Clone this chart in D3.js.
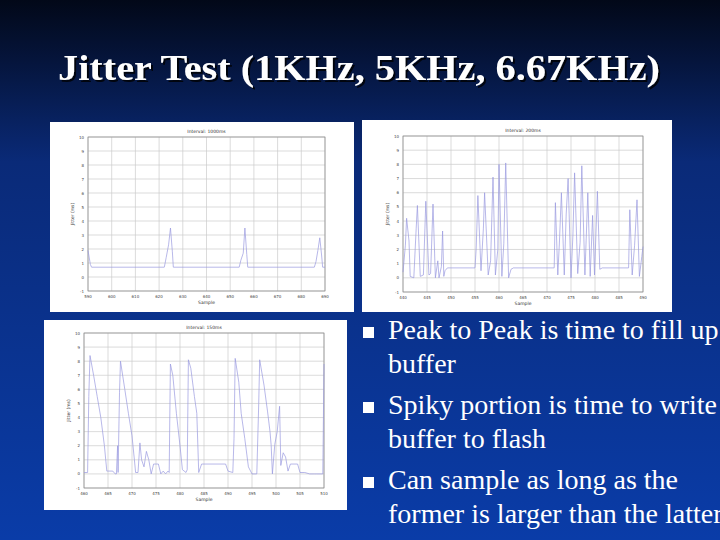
<!DOCTYPE html>
<html><head><meta charset="utf-8">
<script src="https://cdn.jsdelivr.net/npm/d3@7"></script>
<style>body{margin:0;overflow:hidden}</style>
</head><body>
<svg id="slide" width="720" height="540"></svg>
<script>
// data, x in grid units (0..10), y in jitter units (-1..10)
var chart1 = [[0,1.9],[0.1,0.9],[0.15,0.7],[3.22,0.7],[3.3,1.4],[3.4,2.3],[3.48,3.5],[3.56,1.8],[3.6,0.7],[6.38,0.7],[6.45,1.2],[6.55,1.7],[6.62,3.5],[6.7,1.6],[6.74,0.7],
  [9.55,0.7],[9.62,1.1],[9.7,1.9],[9.78,2.8],[9.86,1.5],[9.9,0.7],[10,0.7]]
var chart2 = [[0,0.4],[0.1,2.3],[0.15,4.2],[0.25,2.6],[0.3,0.1],[0.45,0],[0.55,3.5],[0.6,5.1],[0.72,0.1],[0.85,0.2],[0.95,5.4],[1.08,0.2],[1.15,0.3],[1.25,5.2],[1.35,0],
  [1.45,1.2],[1.5,0],[1.6,0.8],[1.65,3.3],[1.7,0.1],[1.75,0.5],[1.85,0.7],[3.0,0.7],[3.05,2.1],[3.12,5.8],[3.25,0.5],[3.35,3.5],[3.4,6],[3.55,0.2],[3.65,1.2],[3.75,7.1],
  [3.85,0.2],[3.95,2],[4.0,8],[4.12,0.1],[4.2,2.4],[4.28,8.1],[4.4,0],[4.5,0.6],[4.6,0.7],[6.3,0.7],[6.35,5.3],[6.45,0.2],[6.52,2.6],[6.6,6],[6.72,0.2],[6.8,4.5],[6.88,7],
  [7.0,0],[7.08,3],[7.15,7.4],[7.28,0.3],[7.38,2.5],[7.45,7.9],[7.58,0.2],[7.7,6],[7.8,0.1],[7.9,4.4],[7.98,0.2],[8.1,6.1],[8.2,0.6],[8.3,0.7],[9.4,0.7],[9.45,4.8],[9.55,0.2],
  [9.65,2.3],[9.75,5.5],[9.85,0.1],[9.95,1.5],[10,2.2]]
var chart3 = [[0,0.1],[0.15,0.1],[0.2,5.5],[0.25,8.4],[0.4,7],[0.55,5.5],[0.7,4],[0.85,2],[0.95,0.2],[1.2,0.2],[1.3,0],[1.35,0],[1.4,2],[1.42,0.1],[1.48,5.8],[1.52,8],
  [1.7,6],[1.85,4.3],[2.0,2.7],[2.1,1],[2.15,0.1],[2.25,0.1],[2.33,2.2],[2.4,1],[2.5,0.5],[2.6,1.6],[2.7,1],[2.8,0],[2.9,0.7],[3.1,0.7],[3.2,0],[3.3,0.2],[3.4,0],[3.5,0.2],
  [3.55,0.1],[3.6,7.8],[3.7,7],[3.85,4.3],[4.0,2],[4.1,0.3],[4.25,0.1],[4.3,0.3],[4.35,8.1],[4.45,7.5],[4.6,5.5],[4.7,4.3],[4.78,0.1],[4.8,0.2],[4.9,0.7],[5.9,0.7],[6.0,0.2],
  [6.2,0.1],[6.25,2.5],[6.3,8.2],[6.45,6.5],[6.55,4.3],[6.7,2.5],[6.85,0.5],[7.0,0],[7.2,0],[7.28,5],[7.32,8.1],[7.5,6.3],[7.65,4.4],[7.75,3],[7.8,2],[7.85,0],[7.95,2.1],
  [8.05,3],[8.15,4.8],[8.2,0.6],[8.3,1.5],[8.4,1.2],[8.5,0.2],[8.6,0.7],[8.9,0.7],[9.0,0.1],[9.2,0.1],[9.4,0],[9.55,0],[9.6,0],[9.7,0],[9.95,0],[10,7.8]]
var xTicks1 = ["590","600","610","620","630","640","650","660","670","680","690"]
var xTicks2 = ["440","445","450","455","460","465","470","475","480","485","490"]
var xTicks3 = ["460","465","470","475","480","485","490","495","500","505","510"]
var yTicks = [-1,0,1,2,3,4,5,6,7,8,9,10]
var bullets = [["Peak to Peak is time to fill up","buffer"],["Spiky portion is time to write","buffer to flash"],["Can sample as long as the","former is larger than the latter"]]

var svg = d3.select("#slide")
var defs = svg.append("defs")
var grad = defs.append("linearGradient").attr("id","bg").attr("x1",0).attr("y1",0).attr("x2",0).attr("y2",1)
grad.append("stop").attr("offset","0%").attr("stop-color","#020818")
grad.append("stop").attr("offset","30%").attr("stop-color","#0a2a78")
grad.append("stop").attr("offset","100%").attr("stop-color","#0a3ca8")
var sh = defs.append("filter").attr("id","shadow")
sh.append("feDropShadow").attr("dx",2).attr("dy",2).attr("stdDeviation",0.5).attr("flood-color","#000").attr("flood-opacity",0.8)
svg.append("rect").attr("width",720).attr("height",540).attr("fill","url(#bg)")

svg.append("text").attr("x",58).attr("y",80)
  .attr("font-family","Liberation Serif").attr("font-weight","bold").attr("font-size",36)
  .attr("textLength",602).attr("lengthAdjust","spacingAndGlyphs")
  .attr("fill","#fff").attr("filter","url(#shadow)").text("Jitter Test (1KHz, 5KHz, 6.67KHz)")

function drawPanel(p, data, xt, title, ylab){
  svg.append("rect").attr("x",p.x).attr("y",p.y).attr("width",p.w).attr("height",p.h).attr("fill","#fff")
  var x = d3.scaleLinear().domain([0,10]).range([p.l,p.r])
  var y = d3.scaleLinear().domain([-1,10]).range([p.b,p.t])
  var g = svg.append("g")
  g.selectAll(".vg").data(d3.range(11)).enter().append("line")
    .attr("x1",x).attr("x2",x).attr("y1",p.t).attr("y2",p.b).attr("stroke","#ccc").attr("stroke-width",0.7)
  g.selectAll(".hg").data(yTicks).enter().append("line")
    .attr("y1",y).attr("y2",y).attr("x1",p.l).attr("x2",p.r).attr("stroke","#ccc").attr("stroke-width",0.7)
  g.append("rect").attr("x",p.l).attr("y",p.t).attr("width",p.r-p.l).attr("height",p.b-p.t)
    .attr("fill","none").attr("stroke","#888").attr("stroke-width",0.7)
  g.selectAll(".yt").data(yTicks).enter().append("text")
    .attr("x",p.l-4).attr("y",function(d){return y(d)+1.5}).attr("text-anchor","end")
    .attr("font-size",4).attr("font-family","DejaVu Sans").attr("fill","#444").text(function(d){return d})
  g.selectAll(".xt").data(xt).enter().append("text")
    .attr("x",function(d,i){return x(i)}).attr("y",p.b+7).attr("text-anchor","middle")
    .attr("font-size",4).attr("font-family","DejaVu Sans").attr("fill","#444").text(function(d){return d})
  g.append("text").attr("x",(p.l+p.r)/2).attr("y",p.t-4).attr("text-anchor","middle")
    .attr("font-size",4.5).attr("font-family","DejaVu Sans").attr("fill","#333").text(title)
  g.append("text").attr("x",(p.l+p.r)/2).attr("y",p.b+13).attr("text-anchor","middle")
    .attr("font-size",4.5).attr("font-family","DejaVu Sans").attr("fill","#333").text("Sample")
  g.append("text").attr("transform","translate("+(p.l-14)+","+((p.t+p.b)/2)+") rotate(-90)")
    .attr("text-anchor","middle").attr("font-size",4.5).attr("font-family","DejaVu Sans").attr("fill","#333").text(ylab)
  g.append("path").datum(data)
    .attr("d",d3.line().x(function(d){return x(d[0])}).y(function(d){return y(d[1])}))
    .attr("fill","none").attr("stroke","#9a9ae0").attr("stroke-width",0.7)
}

drawPanel({x:50,y:122,w:304,h:190,l:88,r:325,t:137,b:291}, chart1, xTicks1, "Interval: 1000ms", "Jitter (ms)")
drawPanel({x:362,y:120,w:310,h:192,l:403,r:643,t:136,b:292}, chart2, xTicks2, "Interval: 200ms", "Jitter (ms)")
drawPanel({x:44,y:320,w:303,h:190,l:84,r:324,t:333,b:488}, chart3, xTicks3, "Interval: 150ms", "Jitter (ms)")

var bl = svg.append("g")
bullets.forEach(function(b,i){
  var y0 = 339 + i*75
  bl.append("rect").attr("x",363).attr("y",y0-12).attr("width",11).attr("height",11).attr("fill","#fff")
  b.forEach(function(line,j){
    bl.append("text").attr("x",388).attr("y",y0+j*34).attr("font-family","Liberation Serif")
      .attr("font-size",28).attr("fill","#fff").text(line)
  })
})
</script>
</body></html>
